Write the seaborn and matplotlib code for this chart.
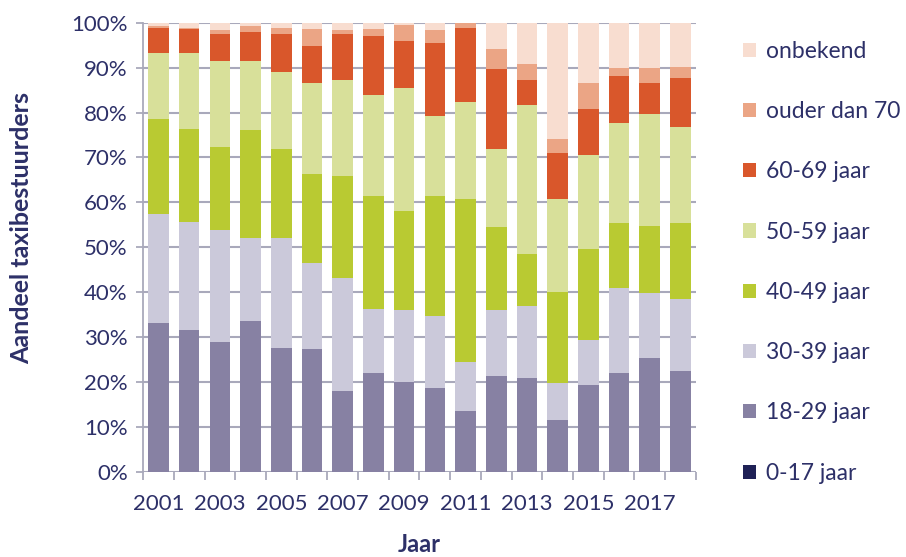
import numpy as np
import pandas as pd
import matplotlib
matplotlib.use('Agg')
import matplotlib.pyplot as plt
from matplotlib.patches import Patch
import seaborn as sns

years = list(range(2001, 2019))
categories = ['0-17 jaar', '18-29 jaar', '30-39 jaar', '40-49 jaar',
              '50-59 jaar', '60-69 jaar', 'ouder dan 70', 'onbekend']
colors = ['#1f2156', '#8781a3', '#cbc9da', '#b9ca32',
          '#d8e09a', '#d9572b', '#eba585', '#f8ddd0']

# percentages per age group, per year
age_0_17 = [0] * 18
age_18_29 = [33.1, 31.6, 28.8, 33.5, 27.5, 27.2, 17.9, 21.9, 20.0,
             18.5, 13.5, 21.3, 20.8, 11.4, 19.2, 21.9, 25.4, 22.3]
age_30_39 = [24.4, 24.0, 25.1, 18.6, 24.6, 19.3, 25.2, 14.3, 15.9,
             16.1, 10.9, 14.7, 16.1, 8.3, 10.2, 19.0, 14.3, 16.1]
age_40_49 = [21.1, 20.8, 18.5, 24.0, 19.7, 19.9, 22.7, 25.3, 22.2,
             26.9, 36.4, 18.4, 11.5, 20.3, 20.2, 14.4, 15.0, 16.9]
age_50_59 = [14.6, 16.8, 19.2, 15.3, 17.3, 20.3, 21.5, 22.4, 27.4,
             17.7, 21.6, 17.4, 33.3, 20.8, 20.9, 22.4, 24.9, 21.4]
age_60_69 = [5.7, 5.4, 6.0, 6.5, 8.5, 8.1, 10.3, 13.1, 10.5,
             16.2, 16.5, 17.8, 5.6, 10.1, 10.3, 10.5, 7.1, 10.9]
age_70_plus = [0.5, 0.3, 0.9, 1.3, 1.2, 3.8, 0.9, 1.6, 3.5,
               2.9, 1.1, 4.6, 3.5, 3.1, 5.7, 1.7, 3.2, 2.5]
unknown = [0.6, 1.1, 1.5, 0.8, 1.2, 1.4, 1.5, 1.4, 0.5,
           1.7, 0.0, 5.8, 9.2, 26.0, 13.5, 10.1, 10.1, 9.9]

df = pd.DataFrame({'Jaar': years})
for name, vals in zip(categories, [age_0_17, age_18_29, age_30_39, age_40_49,
                                   age_50_59, age_60_69, age_70_plus, unknown]):
    df[name] = vals
cum = df[categories].cumsum(axis=1)

text_col = '#2d3068'
grid_col = '#a9a9bb'
plt.rcParams['font.family'] = ['Lato', 'DejaVu Sans']

fig = plt.figure(figsize=(9.06, 5.57), dpi=100)
ax = fig.add_axes([0.158, 0.1535, 0.61, 0.8055])

# draw from the top cumulative down so lower segments overlay
for name, col in zip(categories[::-1], colors[::-1]):
    sns.barplot(x=df['Jaar'].astype(str), y=cum[name], color=col,
                width=0.67, ax=ax, saturation=1, linewidth=0)

ax.set_ylim(0, 100)
ax.set_xlim(-0.5, len(years) - 0.5)
ax.set_yticks(np.arange(0, 101, 10))
ax.set_yticklabels([f'{v}%' for v in range(0, 101, 10)])
ax.set_xticks(range(0, len(years), 2))
ax.set_xticklabels([str(y) for y in years[::2]])
ax.set_xticks(np.arange(-0.5, len(years), 1), minor=True)
ax.tick_params(axis='x', which='major', length=0, pad=16, labelsize=16, labelcolor=text_col)
ax.tick_params(axis='x', which='minor', length=6, color=grid_col, width=1.3)
ax.tick_params(axis='y', length=5, color=grid_col, width=1.3, labelsize=16,
               labelcolor=text_col, pad=6)
ax.yaxis.grid(True, color=grid_col, linewidth=1.5)
ax.set_axisbelow(True)
for s in ['top', 'right', 'bottom']:
    ax.spines[s].set_visible(False)
ax.spines['left'].set_color(grid_col)
ax.spines['left'].set_linewidth(1.3)

ax.set_xlabel('Jaar', fontsize=17, fontweight='bold', color=text_col)
ax.xaxis.set_label_coords(0.5, -0.137)
ax.set_ylabel('Aandeel taxibestuurders', fontsize=18, fontweight='bold', color=text_col)
ax.yaxis.set_label_coords(-0.199, 0.543)

handles = [Patch(facecolor=c, edgecolor='none') for c in colors[::-1]]
fig.legend(handles, categories[::-1], loc='upper left', bbox_to_anchor=(0.797, 0.964),
           frameon=False, fontsize=16.5, labelcolor=text_col, handlelength=0.57,
           handleheight=0.57, handletextpad=0.45, labelspacing=1.715)

fig.savefig('out.png', dpi=100)
